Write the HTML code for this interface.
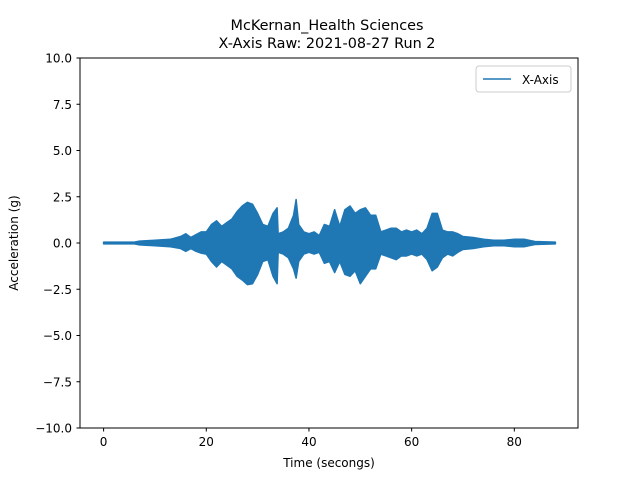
<!DOCTYPE html>
<html><head><meta charset="utf-8"><style>
body{margin:0;background:#fff}
svg text{font-family:"DejaVu Sans","Liberation Sans",sans-serif;fill:#000}
</style></head><body>
<svg id="chart" width="640" height="480" xmlns="http://www.w3.org/2000/svg">
<rect width="640" height="480" fill="#fff"/>
<text x="327" y="30" font-size="14.4" text-anchor="middle">McKernan_Health Sciences</text>
<text x="327" y="48" font-size="14.4" text-anchor="middle">X-Axis Raw: 2021-08-27 Run 2</text>
<g id="plot"></g>
<rect x="80" y="58" width="498" height="370" fill="none" stroke="#000" stroke-width="1"/>
<g id="xt"></g><g id="yt"></g>
<text x="329" y="467" font-size="12" text-anchor="middle">Time (secongs)</text>
<text transform="translate(18,243) rotate(-90)" font-size="12" text-anchor="middle">Acceleration (g)</text>
<g>
<rect x="476" y="66" width="95" height="26" rx="3" fill="#fff" stroke="#ccc"/>
<line x1="483" y1="79" x2="511" y2="79" stroke="#1f77b4" stroke-width="1.5"/>
<text x="522" y="84" font-size="12">X-Axis</text>
</g>
</svg>
<script>
const times=[0,6,7,10,13,15,16,17,18,19,20,21,22,23,24,25,26,27,28,29,30,31,32,33,33.8,34,35,36,37,37.5,38,39,40,41,42,43,44,45,46,47,48,49,50,51,52,53,54,55,56,57,58,59,60,61,62,63,64,65,66,67,68,69,70,72,74,76,78,80,82,84,88];
const hi=[0.05,0.05,0.1,0.15,0.2,0.35,0.5,0.3,0.45,0.6,0.6,1.0,1.2,0.9,1.1,1.3,1.7,2.0,2.2,2.1,1.6,1.0,0.9,1.6,1.9,0.5,0.6,0.8,1.5,2.35,1.0,0.6,0.5,0.6,0.4,1.0,0.9,1.8,0.9,1.8,2.0,1.6,1.8,1.9,1.5,1.5,0.6,0.7,0.8,0.8,0.6,0.7,0.6,0.7,0.5,0.8,1.6,1.6,0.7,0.6,0.6,0.5,0.35,0.3,0.2,0.15,0.15,0.2,0.2,0.08,0.05];
const lo=[-0.05,-0.05,-0.1,-0.15,-0.2,-0.3,-0.45,-0.3,-0.45,-0.55,-0.6,-1.0,-1.3,-1.0,-1.2,-1.4,-1.8,-2.0,-2.25,-2.2,-1.7,-1.0,-0.9,-1.8,-2.2,-0.5,-0.6,-0.8,-1.4,-1.9,-1.0,-0.6,-0.5,-0.6,-0.5,-1.1,-1.0,-1.6,-1.0,-1.7,-1.8,-1.5,-2.2,-1.8,-1.4,-1.4,-0.6,-0.7,-0.8,-0.9,-0.7,-0.7,-0.6,-0.7,-0.6,-0.9,-1.5,-1.3,-0.8,-0.6,-0.7,-0.5,-0.35,-0.3,-0.2,-0.15,-0.15,-0.2,-0.2,-0.08,-0.05];
const xTicks=[0,20,40,60,80];
const yTicks=[10,7.5,5,2.5,0,-2.5,-5,-7.5,-10];
const X=t=>103.6+t*5.134, Y=v=>243-v*18.5;
const NS='http://www.w3.org/2000/svg';
const plot=document.getElementById('plot');
let d='M'+X(times[0])+','+Y(hi[0]);
for(let i=1;i<times.length;i++)d+=' L'+X(times[i])+','+Y(hi[i]);
for(let i=times.length-1;i>=0;i--)d+=' L'+X(times[i])+','+Y(lo[i]);
d+='Z';
const p=document.createElementNS(NS,'path');
p.setAttribute('d',d);p.setAttribute('fill','#1f77b4');p.setAttribute('stroke','#1f77b4');p.setAttribute('stroke-width','1.5');p.setAttribute('stroke-linejoin','round');


plot.appendChild(p);
const xt=document.getElementById('xt');
xTicks.forEach(t=>{
 const l=document.createElementNS(NS,'line');l.setAttribute('x1',X(t));l.setAttribute('x2',X(t));l.setAttribute('y1',428);l.setAttribute('y2',431.5);l.setAttribute('stroke','#000');
 
 
 xt.appendChild(l);
 const tx=document.createElementNS(NS,'text');tx.setAttribute('x',X(t));tx.setAttribute('y',446);tx.setAttribute('font-size','12');tx.setAttribute('text-anchor','middle');tx.textContent=t;
 
 
 xt.appendChild(tx);
});
const yt=document.getElementById('yt');
yTicks.forEach(v=>{
 const l=document.createElementNS(NS,'line');l.setAttribute('x1',76.5);l.setAttribute('x2',80);l.setAttribute('y1',Y(v));l.setAttribute('y2',Y(v));l.setAttribute('stroke','#000');
 
 
 yt.appendChild(l);
 const tx=document.createElementNS(NS,'text');tx.setAttribute('x',72);tx.setAttribute('y',Y(v)+4.5);tx.setAttribute('font-size','12');tx.setAttribute('text-anchor','end');tx.textContent=v.toFixed(1).replace('-','\u2212');
 
 
 yt.appendChild(tx);
});
</script>
</body></html>
